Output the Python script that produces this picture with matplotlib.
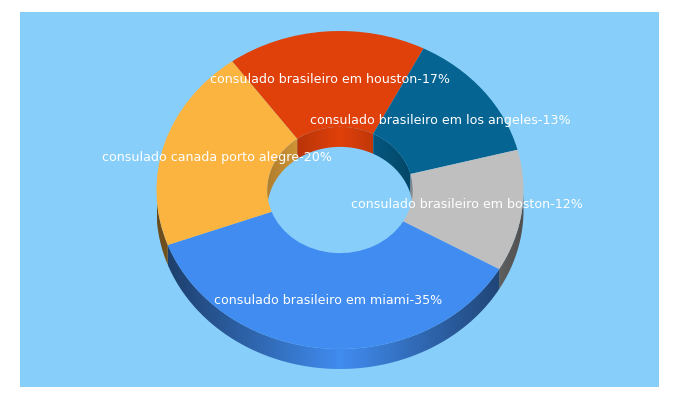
import numpy as np
import matplotlib
matplotlib.use("Agg")
import matplotlib.pyplot as plt
from matplotlib.colors import to_rgb
from matplotlib.patches import Polygon

categories = ["consulado brasileiro em houston", "consulado brasileiro em los angeles",
              "consulado brasileiro em boston", "consulado brasileiro em miami",
              "consulado canada porto alegre"]
values = [17, 13, 12, 35, 20]
colors = ["#E0400A", "#056492", "#BFBFBF", "#418CF0", "#FCB441"]
label_x = [330, 440.5, 467, 328.5, 216.5]
label_y = [79.5, 120.5, 204, 300, 157]

W, H = 680, 400
cx, cy = 340, 190
rx, ry = 183.5, 159
hole = 0.397
depth = 20 / ry
start = 126

fig = plt.figure(figsize=(6.8, 4), dpi=100, facecolor="white")

bg = fig.add_axes([20 / W, 1 - 387 / H, 639 / W, 375 / H])
bg.set_facecolor("#87CEFA")
bg.set_xticks([])
bg.set_yticks([])
for s in bg.spines.values():
    s.set_visible(False)

# axes in units of the ellipse radii, so the pie comes out squashed
ax = fig.add_axes([0, 0, 1, 1])
ax.patch.set_alpha(0)

fractions = np.array(values) / sum(values)
edges = start - 360 * np.concatenate([[0], np.cumsum(fractions)])


def wall(a0, a1, radius, color, low):
    # side of a slice, darker towards the left and right ends of the ring
    angles = np.radians(np.linspace(a0, a1, 120))
    xs = radius * np.cos(angles)
    ys = radius * np.sin(angles)
    outline = np.vstack([np.c_[xs, ys], np.c_[xs[::-1], ys[::-1] - depth]])
    poly = Polygon(outline, closed=True, fc="none", ec="none", transform=ax.transData)
    ax.add_patch(poly)
    gx = np.linspace(xs.min(), xs.max(), 200)
    f = 1 - (1 - low) * np.abs(gx) / radius
    img = np.outer(f, to_rgb(color)).reshape(1, 200, 3)
    im = ax.imshow(img, extent=[gx[0], gx[-1], outline[:, 1].min(), outline[:, 1].max()],
                   aspect="auto", interpolation="bilinear", zorder=1)
    im.set_clip_path(poly)


for i in range(len(values)):
    a0, a1 = edges[i], edges[i + 1]
    for k in [-1, 0]:
        # back part of the hole
        lo, hi = max(a1, 360 * k), min(a0, 180 + 360 * k)
        if hi > lo:
            wall(hi, lo, hole, colors[i], 0.7)
        # front part of the rim
        lo, hi = max(a1, 360 * k - 180), min(a0, 360 * k)
        if hi > lo:
            wall(hi, lo, 1, colors[i], 0.42)

ax.pie(values, colors=colors, startangle=start, counterclock=False, radius=1,
       wedgeprops={"width": 1 - hole, "linewidth": 0, "zorder": 2})
ax.set_aspect("auto")
ax.set_xlim((0 - cx) / rx, (W - cx) / rx)
ax.set_ylim((cy - H) / ry, cy / ry)

for name, v, px, py in zip(categories, values, label_x, label_y):
    ax.text((px - cx) / rx, (cy - py) / ry, f"{name}-{v}%", color="white",
            fontsize=9.1, ha="center", va="center", zorder=5)

fig.savefig("out.png", dpi=100)
